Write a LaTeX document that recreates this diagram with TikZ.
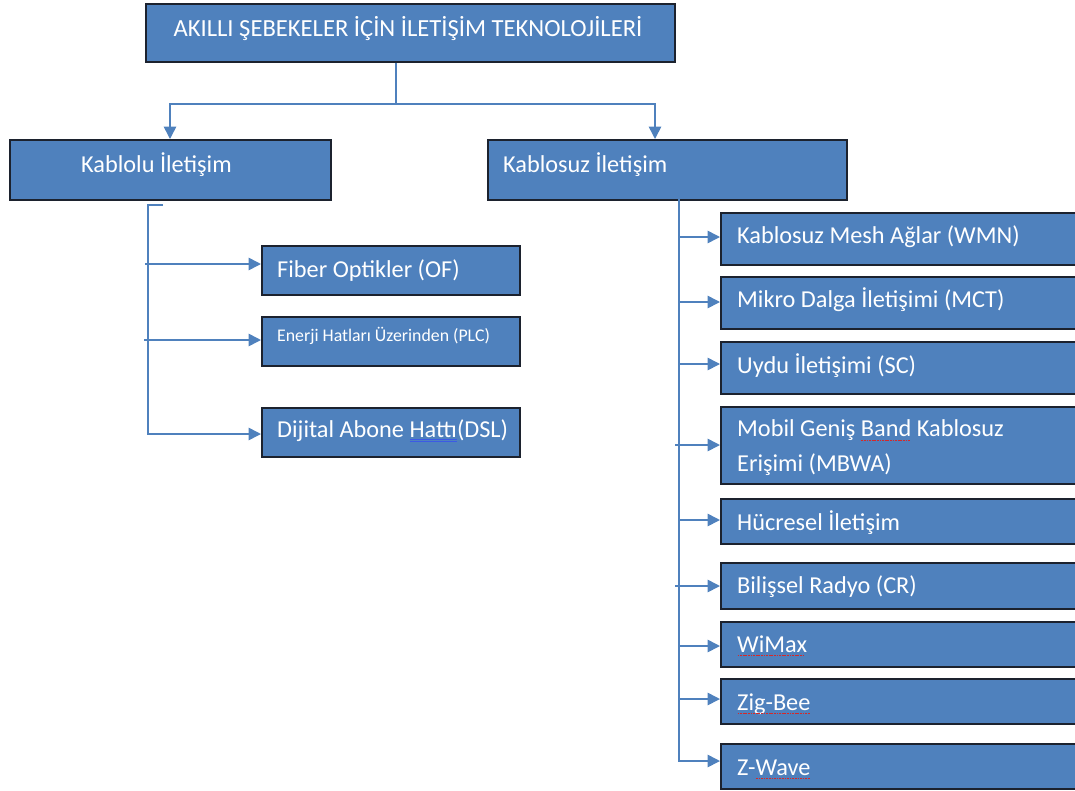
\documentclass[tikz,border=0pt]{standalone}
\usepackage{fontspec}
\setmainfont{Carlito}
\usetikzlibrary{arrows.meta}

\definecolor{boxblue}{RGB}{79,129,189}
\definecolor{boxedge}{RGB}{28,34,46}
\definecolor{linkblue}{RGB}{79,129,189}
\definecolor{squigred}{RGB}{214,40,40}
\definecolor{gramblue}{RGB}{60,90,230}

% proofing marks under single words
\newcommand\redsquig[1]{\setbox0=\hbox{#1}\rlap{\copy0}\raisebox{-4pt}[0pt][0pt]{\hbox to \wd0{\color{squigred}\leaders\hbox to 2.6pt{\hss\rule{1.7pt}{1pt}\hss}\hfill}}}
\newcommand\bluedouble[1]{\setbox0=\hbox{#1}\rlap{\copy0}\rlap{\raisebox{-3pt}[0pt][0pt]{\color{gramblue}\rule{\wd0}{0.8pt}}}\raisebox{-5pt}[0pt][0pt]{\color{gramblue}\rule{\wd0}{0.8pt}}}

\begin{document}
\begin{tikzpicture}[x=1pt,y=-1pt,
  box/.style={draw=boxedge, line width=1.8pt, fill=boxblue, rectangle, inner sep=0pt, anchor=north west},
  lbl/.style={text=white, inner sep=0pt, anchor=base west, font=\fontsize{24.3}{35}\selectfont},
  link/.style={draw=linkblue, line width=1.6pt},
  arr/.style={link, -{Triangle[length=12.5pt,width=12.5pt]}},
]
\useasboundingbox (0,0) rectangle (1075,790);
\clip (0,0) rectangle (1075,790);

% ---- boxes ----
\node[box, minimum width=529pt, minimum height=58pt] (root) at (145,3) {};
\node[box, minimum width=321pt, minimum height=60pt] (wired) at (9,139) {};
\node[box, minimum width=359pt, minimum height=60pt] (wless) at (487,139) {};

\node[box, minimum width=258pt, minimum height=49pt] (fiber) at (261,245) {};
\node[box, minimum width=258pt, minimum height=49pt] (plc) at (261,316) {};
\node[box, minimum width=258pt, minimum height=49pt] (dsl) at (261,407) {};

\node[box, minimum width=380pt, minimum height=52pt] (wmn) at (720,212) {};
\node[box, minimum width=380pt, minimum height=52pt] (mct) at (720,276) {};
\node[box, minimum width=380pt, minimum height=52pt] (sc) at (720,341) {};
\node[box, minimum width=380pt, minimum height=77pt] (mbwa) at (720,406) {};
\node[box, minimum width=380pt, minimum height=45pt] (cell) at (720,498) {};
\node[box, minimum width=380pt, minimum height=46pt] (cr) at (720,562) {};
\node[box, minimum width=380pt, minimum height=45pt] (wimax) at (720,621) {};
\node[box, minimum width=380pt, minimum height=45pt] (zig) at (720,678) {};
\node[box, minimum width=380pt, minimum height=45pt] (zwave) at (720,743) {};

% ---- labels ----
\node[lbl, anchor=base, font=\fontsize{24.6}{29}\selectfont] (t-root) at (408,36) {AKILLI ŞEBEKELER İÇİN İLETİŞİM TEKNOLOJİLERİ};
\node[lbl] (t-wired) at (81,172) {Kablolu İletişim};
\node[lbl] (t-wless) at (503,172) {Kablosuz İletişim};

\node[lbl] (t-fiber) at (277,277) {Fiber Optikler (OF)};
\node[lbl, font=\fontsize{17.8}{22}\selectfont] (t-plc) at (277,341) {Enerji Hatları Üzerinden (PLC)};
\node[lbl] (t-dsl) at (277,437) {Dijital Abone \bluedouble{Hattı}(DSL)};

\node[lbl] (t-wmn) at (737,243) {Kablosuz Mesh Ağlar (WMN)};
\node[lbl] (t-mct) at (737,307) {Mikro Dalga İletişimi (MCT)};
\node[lbl] (t-sc) at (737,373) {Uydu İletişimi (SC)};
\node[lbl, anchor=west, align=left] (t-mbwa) at (737,448) {Mobil Geniş \redsquig{Band} Kablosuz\\Erişimi (MBWA)};
\node[lbl] (t-cell) at (737,530) {Hücresel İletişim};
\node[lbl] (t-cr) at (737,593) {Bilişsel Radyo (CR)};
\node[lbl] (t-wimax) at (737,652) {\redsquig{WiMax}};
\node[lbl] (t-zig) at (737,710) {\redsquig{Zig-Bee}};
\node[lbl] (t-zwave) at (737,775) {Z-\redsquig{Wave}};

% ---- connectors from the title ----
\coordinate (jm) at (396,104);
\coordinate (jl) at (170,104);
\coordinate (jr) at (655,104);
\draw[link] (root.south -| jm) -- (jm);
\draw[arr] (jm) -- (jl) -- (jl |- wired.north);
\draw[arr] (jm) -- (jr) -- (jr |- wless.north);

% ---- wired branch ----
\coordinate (ltick) at (163,205);
\coordinate (lbar) at (148,205);
\coordinate (lend) at (148,434);
\coordinate (lb1) at (145,264);
\coordinate (lb2) at (144,340);
\draw[arr] (ltick) -- (lbar) -- (lend) -- (lend -| dsl.west);
\draw[arr] (lb1) -- (lb1 -| fiber.west);
\draw[arr] (lb2) -- (lb2 -| plc.west);

% ---- wireless branch ----
\coordinate (rtop) at (679,198);
\coordinate (rend) at (679,761);
\draw[arr] (rtop) -- (rend) -- (rend -| zwave.west);
\foreach \n/\yy/\xx in {wmn/237/679, mct/302/679, sc/364/679, mbwa/445/675,
                        cell/520/679, cr/586/675, wimax/646/679, zig/699/679}{
  \coordinate (rb) at (\xx,\yy);
  \draw[arr] (rb) -- (rb -| \n.west);
}
\end{tikzpicture}
\end{document}
